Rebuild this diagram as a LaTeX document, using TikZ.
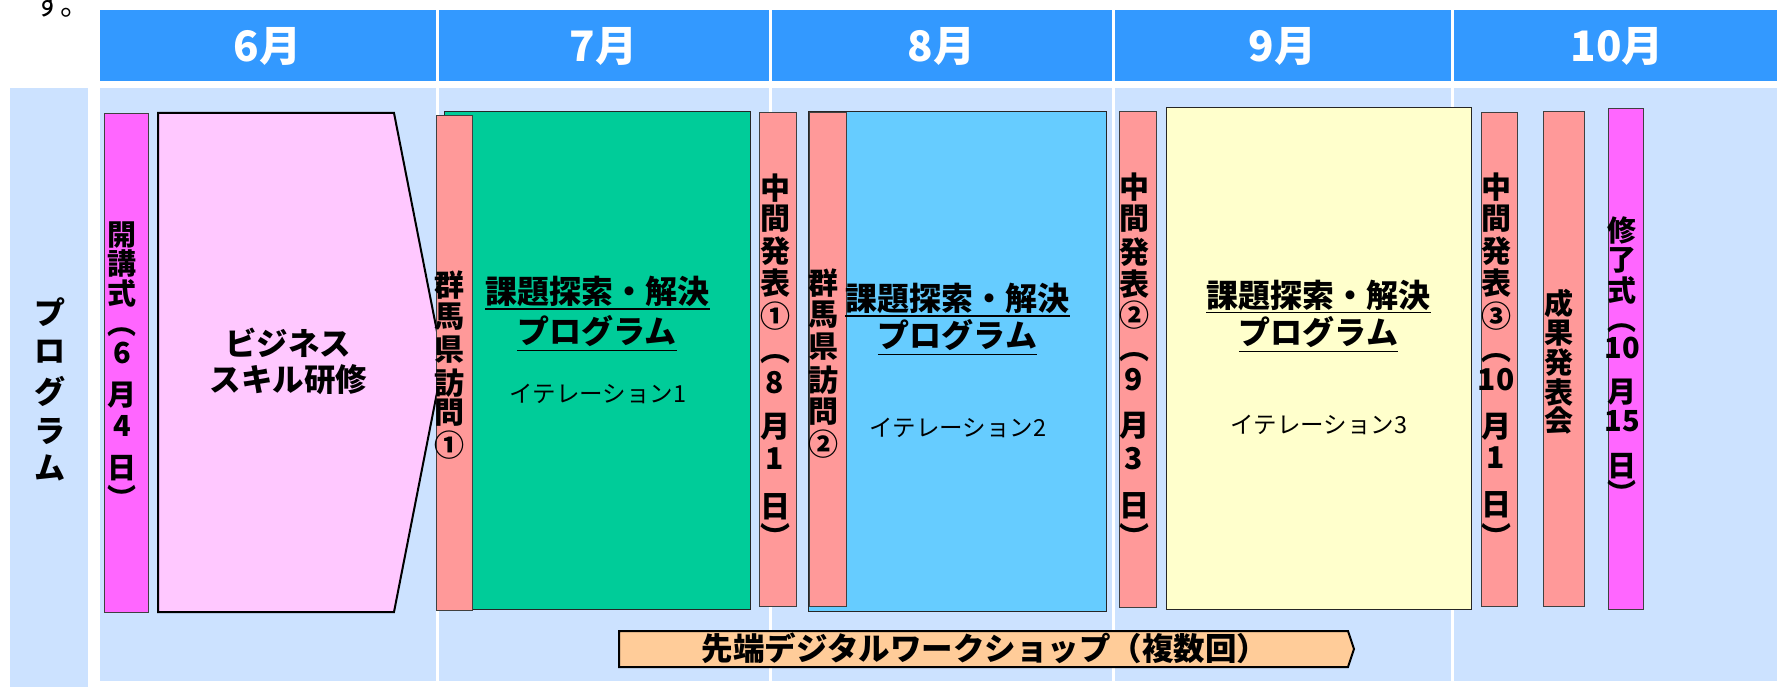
\documentclass[tikz,border=0pt]{standalone}
\usepackage{fontspec}
\setmainfont{Noto Sans CJK JP}
\definecolor{hdr}{HTML}{3399FF}
\definecolor{bodyc}{HTML}{CCE2FF}
\definecolor{mag}{HTML}{FF66FF}
\definecolor{lpink}{HTML}{FFC8FF}
\definecolor{salmon}{HTML}{FF9999}
\definecolor{grn}{HTML}{00CC99}
\definecolor{sky}{HTML}{66CCFF}
\definecolor{lyel}{HTML}{FFFFCC}
\definecolor{peach}{HTML}{FFCC99}
\definecolor{edge}{HTML}{404040}
\tikzset{
  month/.style={text=white, inner sep=0pt, font=\bfseries\fontsize{42}{42}\selectfont},
  barbox/.style={draw=edge, line width=0.9pt},
  bigbox/.style={draw=black!85, line width=1pt},
  vch/.style={inner sep=0pt, font=\bfseries\fontsize{#1}{#1}\selectfont},
  vch/.default=30,
  title/.style={inner sep=0pt, font=\bfseries\fontsize{32}{32}\selectfont},
  iter/.style={inner sep=0pt, font=\fontsize{23.5}{23.5}\selectfont},
  uline/.style={line width=1.6pt},
  thick2/.style={draw=black, line width=2pt}
}
\newcommand\vcol[4]{\foreach \c/\yy [count=\i] in {#4} {\node[#3] (#1-\i) at (#2,\yy) {\c};}}
\begin{document}
\begin{tikzpicture}[x=1pt,y=-1pt]
\useasboundingbox (0,0) rectangle (1777,687);
\fill[white] (0,0) rectangle (1777,687);
% top-left cut text
\node[inner sep=0pt, anchor=base west, font=\fontsize{30}{30}\selectfont] (cut) at (33,16) {す。};
% header and body cells
\foreach \a/\b [count=\k] in {100/435.5, 438.5/768.5, 771.5/1111.5, 1114.5/1450.5, 1453.5/1777} {
  \fill[hdr] (\a,10) rectangle (\b,81);
  \fill[bodyc] (\a,88) rectangle (\b,681);
}
\fill[bodyc] (10,88) rectangle (88,687);
\node[month] (m6) at (267.5,46) {6月};
\node[month] (m7) at (603.5,46) {7月};
\node[month] (m8) at (941.5,46) {8月};
\node[month] (m9) at (1282.5,46) {9月};
\node[month] (m10) at (1617,46) {10月};
% left label
\vcol{prog}{50}{vch=31}{プ/312, ロ/352, グ/391, ラ/431, ム/468}
% opening ceremony
\filldraw[fill=mag, barbox] (104,113) rectangle (148,612);
\vcol{kai}{122}{vch=29}{開/235, 講/263, 式/293, ︵/332, 6/353, 月/395, 4/426, 日/468, ︶/497}
% business skill pentagon
\filldraw[fill=lpink, thick2] (158,113) -- (394,113) -- (443,362) -- (394,612) -- (158,612) -- cycle;
\node[inner sep=0pt, font=\bfseries\fontsize{31.5}{31.5}\selectfont] (biz1) at (288,343) {ビジネス};
\node[inner sep=0pt, font=\bfseries\fontsize{31.5}{31.5}\selectfont] (biz2) at (288.5,380) {スキル研修};
% iteration 1
\filldraw[fill=grn, bigbox] (444,112) rectangle (750,609);
\filldraw[fill=salmon, barbox] (436,115) rectangle (472,610);
\vcol{gun1}{449}{vch=30}{群/285, 馬/317, 県/350, 訪/383, 問/413, ①/445}
\node[title] (g1a) at (597.5,291.5) {課題探索・解決};
\node[title] (g1b) at (597,331.5) {プログラム};
\draw[uline] ([yshift=-2pt]g1a.south west) -- ([yshift=-2pt]g1a.south east);
\draw[uline] ([yshift=-3pt]g1b.south west) -- ([yshift=-3pt]g1b.south east);
\node[iter] (it1) at (598,394) {イテレーション1};
% mid presentation 1
\filldraw[fill=salmon, barbox] (759,112) rectangle (796,606);
\vcol{chu1}{775}{vch=30}{中/188, 間/219, 発/251, 表/283, ①/316, ︵/359, 8/383, 月/427, 1/459, 日/507, ︶/536}
% iteration 2
\filldraw[fill=sky, bigbox] (808,112) rectangle (1106,611);
\filldraw[fill=salmon, barbox] (809,112) rectangle (846,606);
\vcol{gun2}{823}{vch=30}{群/283, 馬/315, 県/347, 訪/380, 問/412, ②/444}
\node[title] (g2a) at (957.5,298.5) {課題探索・解決};
\node[title] (g2b) at (957.5,335.5) {プログラム};
\draw[uline] ([yshift=-2pt]g2a.south west) -- ([yshift=-2pt]g2a.south east);
\draw[uline] ([yshift=-3pt]g2b.south west) -- ([yshift=-3pt]g2b.south east);
\node[iter] (it2) at (958,428) {イテレーション2};
% mid presentation 2
\filldraw[fill=salmon, barbox] (1119,111) rectangle (1156,607);
\vcol{chu2}{1134}{vch=30}{中/187, 間/219, 発/252, 表/284, ②/315, ︵/357, 9/380, 月/426, 3/459, 日/506, ︶/536}
% iteration 3
\filldraw[fill=lyel, bigbox] (1166,108) rectangle (1471,609);
\node[title] (g3a) at (1318.5,295) {課題探索・解決};
\node[title] (g3b) at (1318.5,332.5) {プログラム};
\draw[uline] ([yshift=-2pt]g3a.south west) -- ([yshift=-2pt]g3a.south east);
\draw[uline] ([yshift=-3pt]g3b.south west) -- ([yshift=-3pt]g3b.south east);
\node[iter] (it3) at (1319,425) {イテレーション3};
% mid presentation 3
\filldraw[fill=salmon, barbox] (1481,112) rectangle (1517,606);
\vcol{chu3}{1496}{vch=30}{中/187, 間/219, 発/251, 表/283, ③/316, ︵/358, 10/380, 月/427, 1/458, 日/505, ︶/536}
% results presentation
\filldraw[fill=salmon, barbox] (1543,111) rectangle (1584,606);
\vcol{sei}{1559}{vch=29}{成/303, 果/333, 発/363, 表/392, 会/421}
% completion ceremony
\filldraw[fill=mag, barbox] (1608,108) rectangle (1643,609);
\vcol{shu}{1622}{vch=29}{修/230, 了/260, 式/290, ︵/328, 10/348, 月/392, 15/421, 日/466, ︶/492}
% workshop arrow
\filldraw[fill=peach, thick2] (619,631) -- (1348,631) -- (1354,649) -- (1348,667) -- (619,667) -- cycle;
\node[inner sep=0pt, font=\bfseries\fontsize{31.5}{31.5}\selectfont] (ws) at (985,648.5) {先端デジタルワークショップ（複数回）};
\end{tikzpicture}
\end{document}
